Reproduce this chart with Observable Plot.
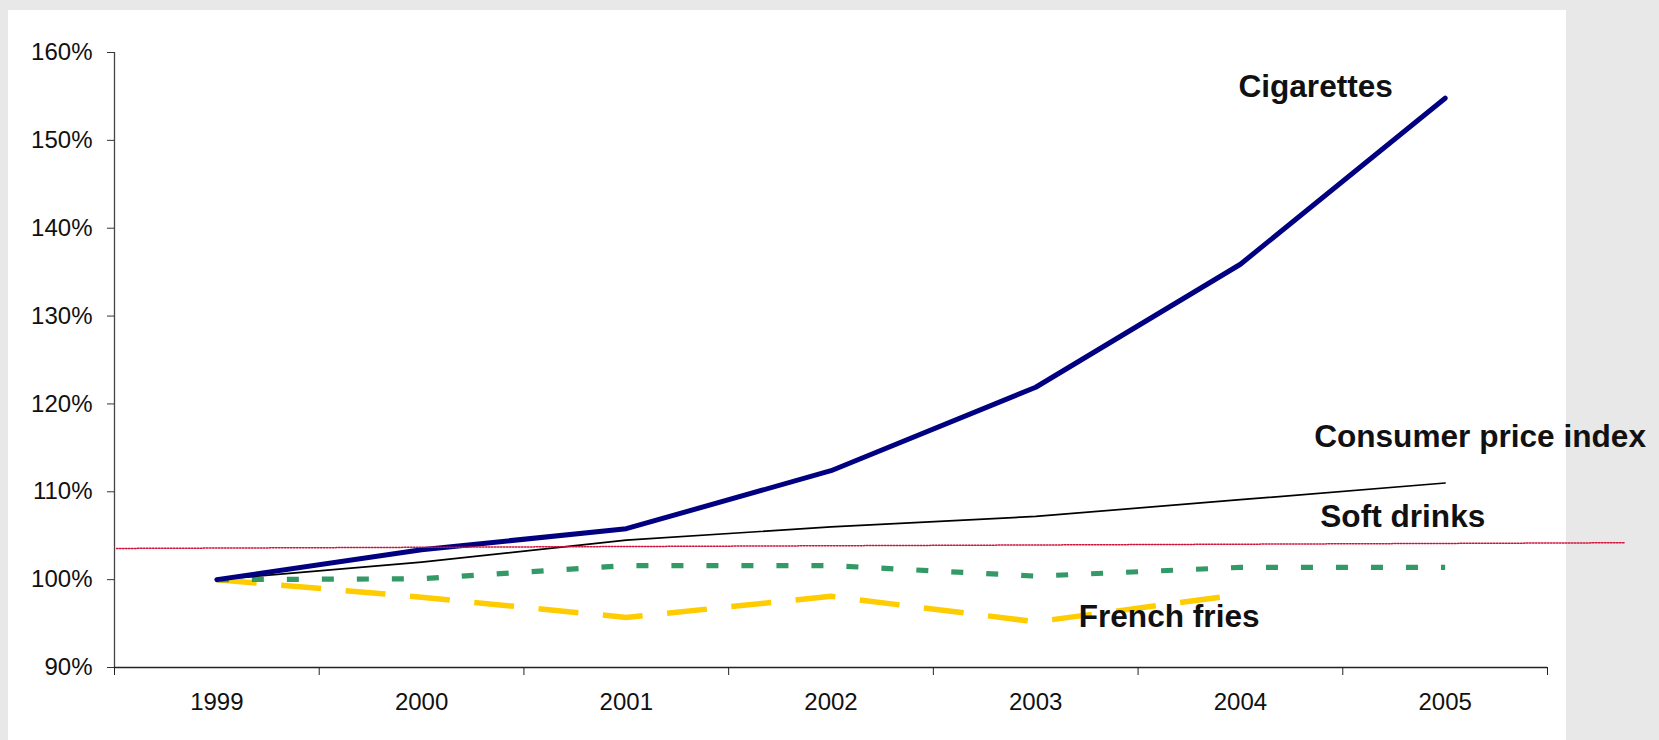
<!DOCTYPE html>
<html><head><meta charset="utf-8">
<script src="https://cdn.jsdelivr.net/npm/d3@7"></script>
<script src="https://cdn.jsdelivr.net/npm/@observablehq/plot@0.6"></script>
<style>
html,body{margin:0;padding:0;background:#e8e8e8;width:1659px;height:740px;overflow:hidden;}
#panel{position:absolute;left:8px;top:10px;width:1558px;height:730px;background:#fff;}
#chart{position:absolute;left:0;top:0;}
</style></head><body>
<div id="panel"></div><div id="chart"></div>
<script>
// ---- data ----
const years = [1999, 2000, 2001, 2002, 2003, 2004, 2005];
const cigarettes = [100, 103.4, 105.8, 112.4, 121.9, 135.9, 154.8];
const consumerPriceIndex = [100, 102.0, 104.5, 106.0, 107.2, 109.1, 111.0];
const softDrinks = [100, 100.1, 101.6, 101.6, 100.4, 101.4, 101.4];
const frenchFries = [100, 98.0, 95.7, 98.1, 95.2, 98.3, null];
const refLineX = [1998.51, 2005.88];
const refLineY = [103.55, 104.2];
const yTicks = [90, 100, 110, 120, 130, 140, 150, 160];
const xBoundaries = [1998.5, 1999.5, 2000.5, 2001.5, 2002.5, 2003.5, 2004.5, 2005.5];
const labelText = ["Cigarettes", "Consumer price index", "Soft drinks", "French fries"];
const labelX = [2003.99, 2004.36, 2004.39, 2003.21];
const labelY = [156.1, 116.2, 107.2, 95.8];

const series = (vals) => years.map((y, i) => ({year: y, v: vals[i]}));
const refData = refLineX.map((x, i) => ({x, y: refLineY[i]}));
const labels = labelText.map((t, i) => ({t, x: labelX[i], y: labelY[i]}));

const chart = Plot.plot({
  width: 1659, height: 740,
  marginLeft: 114, marginRight: 112, marginTop: 52, marginBottom: 73,
  style: {background: "transparent", fontFamily: "'Liberation Sans', Arial, sans-serif", fontSize: "24px", color: "#111"},
  x: {type: "linear", domain: [1998.5, 2005.5]},
  y: {type: "linear", domain: [90, 160]},
  marks: [
    Plot.axisY({ticks: yTicks, tickSize: 7, tickPadding: 15, tickFormat: d => d + "%", label: null, stroke: "#333", strokeOpacity: 1, fontSize: 24, fill: "#111"}),
    Plot.axisX({ticks: xBoundaries, tickSize: 8, tickFormat: () => "", label: null, stroke: "#222", strokeOpacity: 1}),
    Plot.axisX({ticks: years, tickSize: 0, tickPadding: 25, tickFormat: d => String(d), label: null, fontSize: 24, fill: "#111"}),
    Plot.ruleX([1998.5], {y1: 90, y2: 160, stroke: "#444", strokeWidth: 1.3}),
    Plot.ruleY([90], {x1: 1998.5, x2: 2005.5, stroke: "#222", strokeWidth: 1.3}),
    Plot.line(series(frenchFries), {x: "year", y: "v", stroke: "#ffcc00", strokeWidth: 5.5, strokeDasharray: "40 24.6", strokeLinecap: "butt"}),
    Plot.line(series(softDrinks), {x: "year", y: "v", stroke: "#339966", strokeWidth: 5.2, strokeDasharray: "12 23", strokeLinecap: "butt"}),
    Plot.line(series(consumerPriceIndex), {x: "year", y: "v", stroke: "#000", strokeWidth: 1.7}),
    Plot.line(series(cigarettes), {x: "year", y: "v", stroke: "#000080", strokeWidth: 5, strokeLinecap: "round"}),
    Plot.line(refData, {x: "x", y: "y", stroke: "#d0103a", strokeWidth: 1.5, strokeDasharray: "1.5 1.5"}),
    Plot.text(labels, {x: "x", y: "y", text: "t", textAnchor: "start", fontWeight: "bold", fontSize: 31.6, fill: "#111"})
  ]
});
document.getElementById("chart").appendChild(chart);
</script>
</body></html>
